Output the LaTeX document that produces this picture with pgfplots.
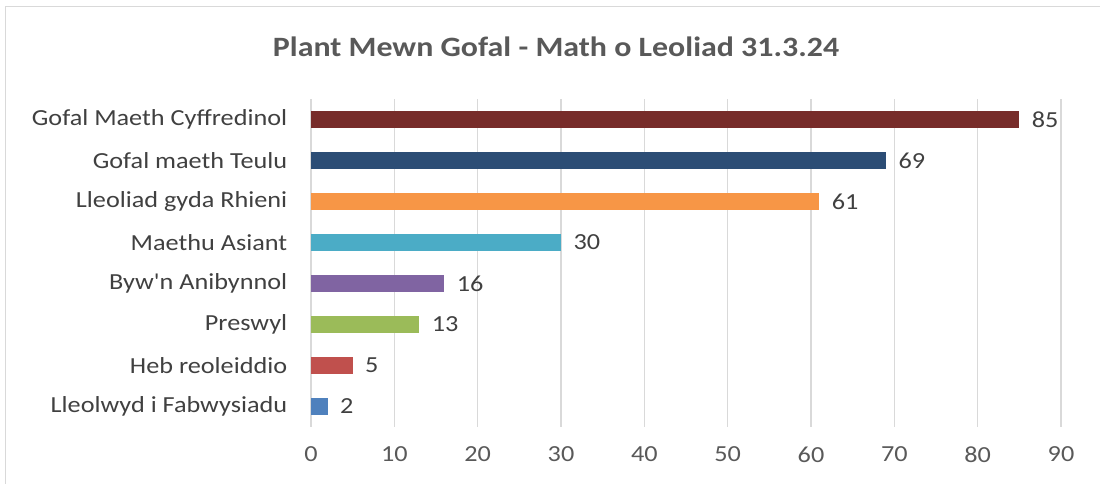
\documentclass[border=0pt]{standalone}
\usepackage{pgfplots}
\pgfplotsset{compat=1.18}
\usepackage{fontspec}
\setmainfont{Carlito}[FakeStretch=1.14]
\newfontfamily\plainfont{Carlito}[FakeStretch=1.14]
\definecolor{c1}{HTML}{4F81BD}
\definecolor{c2}{HTML}{C0504D}
\definecolor{c3}{HTML}{9BBB59}
\definecolor{c4}{HTML}{8064A2}
\definecolor{c5}{HTML}{4BACC6}
\definecolor{c6}{HTML}{F79646}
\definecolor{c7}{HTML}{2C4D75}
\definecolor{c8}{HTML}{772C2A}
\definecolor{txt}{HTML}{404040}
\definecolor{tickc}{HTML}{595959}
\definecolor{gridc}{HTML}{D9D9D9}
\begin{document}
\begin{tikzpicture}[x=1pt,y=1pt]
\useasboundingbox (0,0) rectangle (1100,484);
\draw[draw=gridc, line width=1pt] (5,-5) rectangle (1110,477);
\node[font=\fontsize{28}{32}\selectfont\bfseries, text=tickc] at (556,437) {Plant Mewn Gofal - Math o Leoliad 31.3.24};
\begin{axis}[at={(311pt,57pt)}, anchor=south west, scale only axis,
  width=750pt, height=328pt,
  xbar, bar width=17pt, bar shift=0pt,
  xmin=0, xmax=90, ymin=-0.5, ymax=7.5,
  xtick={0,10,...,90},
  ytick={0,...,7},
  yticklabels={Lleolwyd i Fabwysiadu, Heb reoleiddio, Preswyl, {\plainfont Byw'n Anibynnol}, Maethu Asiant, Lleoliad gyda Rhieni, Gofal maeth Teulu, Gofal Maeth Cyffredinol},
  axis line style={draw=none},
  major tick style={draw=none},
  xmajorgrids, ymajorgrids=false,
  x grid style={draw=gridc, line width=1.4pt},
  ticklabel style={font=\fontsize{23}{27}\selectfont},
  xticklabel style={text=tickc},
  yticklabel style={text=txt},
  xticklabel shift=16pt, yticklabel shift=16pt,
  /pgf/number format/assume math mode=true,
  nodes near coords, every node near coord/.append style={font=\fontsize{23}{27}\selectfont, text=txt, anchor=west, xshift=9pt},
  ]
\addplot[fill=c1, draw=none] coordinates {(2,0)};
\addplot[fill=c2, draw=none] coordinates {(5,1)};
\addplot[fill=c3, draw=none] coordinates {(13,2)};
\addplot[fill=c4, draw=none] coordinates {(16,3)};
\addplot[fill=c5, draw=none] coordinates {(30,4)};
\addplot[fill=c6, draw=none] coordinates {(61,5)};
\addplot[fill=c7, draw=none] coordinates {(69,6)};
\addplot[fill=c8, draw=none] coordinates {(85,7)};
\end{axis}
\end{tikzpicture}
\end{document}
